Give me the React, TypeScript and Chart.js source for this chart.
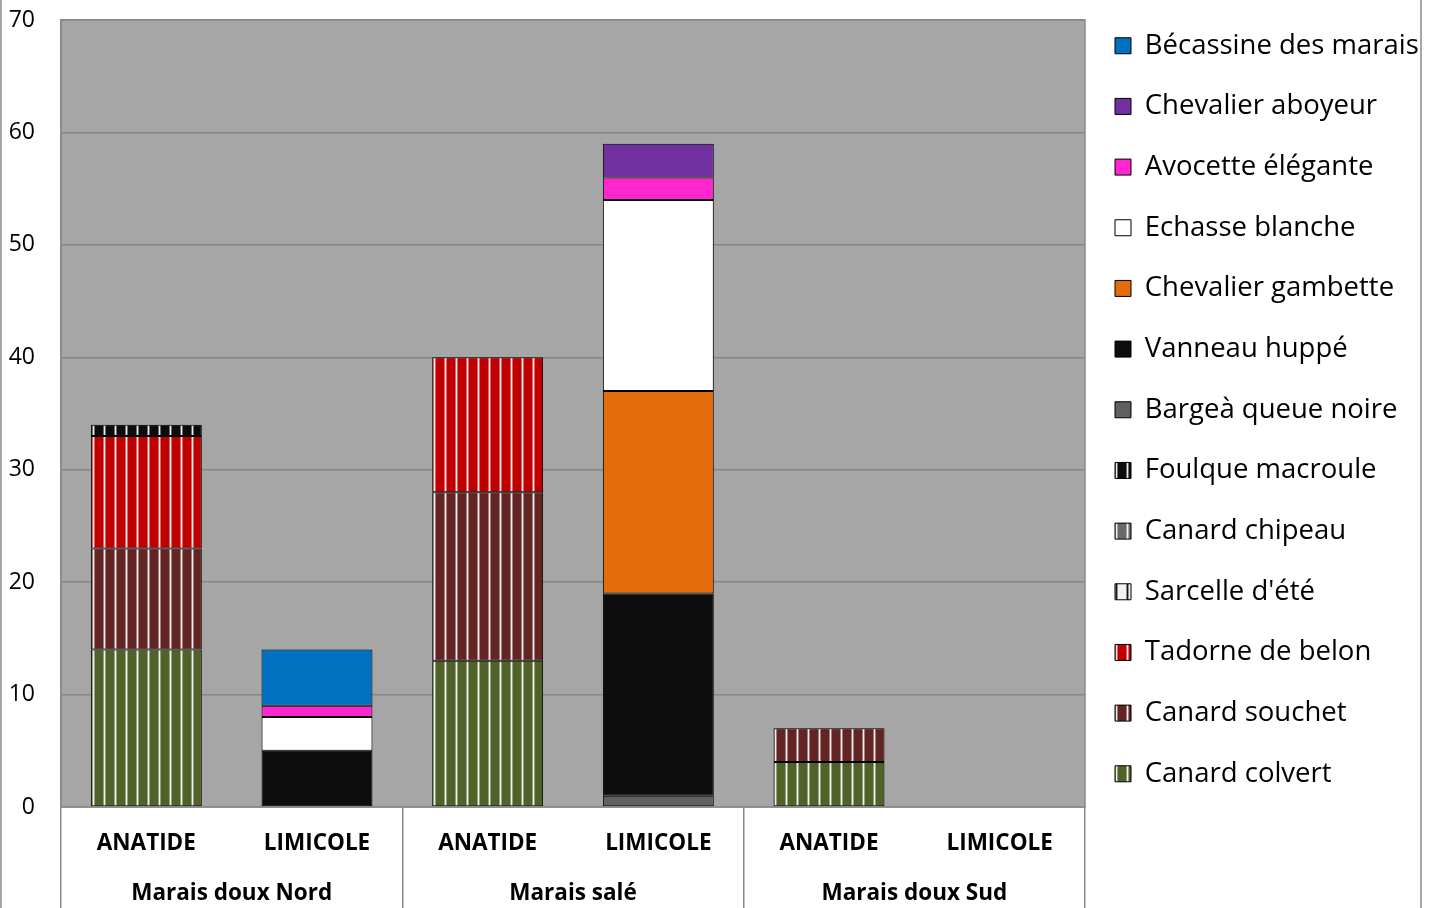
import { useEffect, useRef } from 'react';
import { Chart, registerables } from 'chart.js';

Chart.register(...registerables);

// Sites (outer axis) and bird groups (inner axis)
const GROUPS = ['Marais doux Nord', 'Marais salé', 'Marais doux Sud'];
const CATEGORIES = ['ANATIDE', 'LIMICOLE', 'ANATIDE', 'LIMICOLE', 'ANATIDE', 'LIMICOLE'];

const Y_MIN = 0;
const Y_MAX = 70;
const Y_STEP = 10;

// Counts per species, one entry per category column (null = none seen)
const CANARD_COLVERT = [14, null, 13, null, 4, null];
const CANARD_SOUCHET = [9, null, 15, null, 3, null];
const TADORNE_DE_BELON = [10, null, 12, null, null, null];
const SARCELLE_ETE = [null, null, null, null, null, null];
const CANARD_CHIPEAU = [null, null, null, null, null, null];
const FOULQUE_MACROULE = [1, null, null, null, null, null];
const BARGE_QUEUE_NOIRE = [null, null, null, 1, null, null];
const VANNEAU_HUPPE = [null, 5, null, 18, null, null];
const CHEVALIER_GAMBETTE = [null, null, null, 18, null, null];
const ECHASSE_BLANCHE = [null, 3, null, 17, null, null];
const AVOCETTE_ELEGANTE = [null, 1, null, 2, null, null];
const CHEVALIER_ABOYEUR = [null, null, null, 3, null, null];
const BECASSINE_DES_MARAIS = [null, 5, null, null, null, null];

const FONT = '"Open Sans", sans-serif';
const LEGEND_FONT_SIZE = 27.5;
const LEGEND_PAD = 30;
const LEGEND_BOX = 16;
const LEGEND_ROW = 60.67;
const AXIS_FONT_SIZE = 22.5;

function stripes(base: string, line: string): CanvasPattern | string {
  const c = document.createElement('canvas');
  c.width = 11;
  c.height = 8;
  const g = c.getContext('2d');
  if (!g) return base;
  g.fillStyle = base;
  g.fillRect(0, 0, 11, 8);
  g.globalAlpha = 0.4;
  g.fillStyle = line;
  g.fillRect(4, 0, 3, 8);
  g.globalAlpha = 0.85;
  g.fillRect(5, 0, 1, 8);
  const p = g.createPattern(c, 'repeat');
  return p || base;
}

const chartFrame = {
  id: 'chartFrame',
  beforeDraw(chart: any) {
    const { ctx, chartArea: a } = chart;
    ctx.save();
    ctx.fillStyle = '#A6A6A6';
    ctx.fillRect(a.left, a.top, a.right - a.left, a.bottom - a.top);
    ctx.restore();
  },
  afterDraw(chart: any) {
    const { ctx, chartArea: a, height } = chart;
    ctx.save();
    ctx.strokeStyle = '#8a8a8a';
    ctx.lineWidth = 1.5;
    ctx.strokeRect(a.left, a.top, a.right - a.left, a.bottom - a.top);
    ctx.beginPath();
    ctx.moveTo(1, 0);
    ctx.lineTo(1, height);
    ctx.moveTo(1421, 0);
    ctx.lineTo(1421, height);
    ctx.stroke();
    ctx.restore();
  },
};

export default function App() {
  const ref = useRef<HTMLCanvasElement | null>(null);

  useEffect(() => {
    if (!ref.current) return;

    const series = [
      { label: 'Canard colvert', data: CANARD_COLVERT, bg: stripes('#4F6228', '#ffffff') },
      { label: 'Canard souchet', data: CANARD_SOUCHET, bg: stripes('#632523', '#ffffff') },
      { label: 'Tadorne de belon', data: TADORNE_DE_BELON, bg: stripes('#C00000', '#ffffff') },
      { label: "Sarcelle d'été", data: SARCELLE_ETE, bg: stripes('#f2f2f2', '#000000') },
      { label: 'Canard chipeau', data: CANARD_CHIPEAU, bg: stripes('#6a6a6a', '#ffffff') },
      { label: 'Foulque macroule', data: FOULQUE_MACROULE, bg: stripes('#0d0d0d', '#ffffff') },
      { label: 'Bargeà queue noire', data: BARGE_QUEUE_NOIRE, bg: '#606060' },
      { label: 'Vanneau huppé', data: VANNEAU_HUPPE, bg: '#0d0d0d' },
      { label: 'Chevalier gambette', data: CHEVALIER_GAMBETTE, bg: '#E46C0A' },
      { label: 'Echasse blanche', data: ECHASSE_BLANCHE, bg: '#FFFFFF' },
      { label: 'Avocette élégante', data: AVOCETTE_ELEGANTE, bg: '#FF25CF' },
      { label: 'Chevalier aboyeur', data: CHEVALIER_ABOYEUR, bg: '#7030A0' },
      { label: 'Bécassine des marais', data: BECASSINE_DES_MARAIS, bg: '#0070C0' },
    ];

    // legend column width, so the plot ends at the same place whatever the font
    const m = document.createElement('canvas').getContext('2d');
    let maxW = 0;
    if (m) {
      m.font = `${LEGEND_FONT_SIZE}px ${FONT}`;
      series.forEach((s) => {
        maxW = Math.max(maxW, m.measureText(s.label).width);
      });
    }
    const legendW = LEGEND_PAD + LEGEND_BOX + LEGEND_FONT_SIZE / 2 + maxW + 10;
    const padRight = Math.max(0, 1435 - 1085 - legendW);

    const chart = new Chart(ref.current, {
      type: 'bar',
      data: {
        labels: CATEGORIES,
        datasets: series.map((s) => ({
          label: s.label,
          data: s.data,
          backgroundColor: s.bg as any,
          borderColor: '#000000',
          borderWidth: 1,
          borderSkipped: false,
          barPercentage: 0.65,
          categoryPercentage: 1,
        })),
      },
      options: {
        responsive: false,
        animation: false,
        devicePixelRatio: 1,
        layout: { padding: { left: 0, top: 0, bottom: 0, right: padRight } },
        plugins: {
          tooltip: { enabled: false },
          title: {
            display: true,
            text: '',
            fullSize: false,
            padding: 0,
            font: { size: 20, lineHeight: 1 },
          },
          legend: {
            position: 'right',
            align: 'start',
            reverse: true,
            maxWidth: 350,
            title: { display: true, text: '', padding: 0, font: { size: 2, lineHeight: 1 } },
            labels: {
              boxWidth: LEGEND_BOX,
              boxHeight: LEGEND_BOX,
              padding: LEGEND_PAD,
              color: '#000000',
              font: {
                family: FONT,
                size: LEGEND_FONT_SIZE,
                lineHeight: (LEGEND_ROW - LEGEND_PAD) / LEGEND_FONT_SIZE,
              },
              generateLabels: (c: any) =>
                Chart.defaults.plugins.legend.labels
                  .generateLabels(c)
                  .map((item: any) => ({ ...item, text: [item.text] })),
            },
          },
        },
        scales: {
          x: {
            type: 'category',
            position: 'bottom',
            stacked: true,
            offset: true,
            afterFit: (s: any) => {
              s.height = 50;
            },
            grid: {
              offset: true,
              drawOnChartArea: false,
              drawTicks: true,
              tickLength: 101,
              lineWidth: 1.5,
              color: (ctx: any) =>
                ctx.index === undefined || ctx.index % 2 === 0 ? '#8a8a8a' : 'rgba(0,0,0,0)',
            },
            border: { display: true, color: '#8a8a8a', width: 1.5 },
            ticks: {
              color: '#000000',
              font: { family: FONT, size: AXIS_FONT_SIZE, weight: 'bold' },
              padding: -77.5,
              maxRotation: 0,
              autoSkip: false,
            },
          },
          x2: {
            type: 'category',
            position: 'bottom',
            labels: GROUPS,
            offset: true,
            afterFit: (s: any) => {
              s.height = 51;
            },
            grid: { display: false, drawTicks: false },
            border: { display: false },
            ticks: {
              color: '#000000',
              font: { family: FONT, size: AXIS_FONT_SIZE, weight: 'bold' },
              padding: 23.5,
              maxRotation: 0,
              autoSkip: false,
            },
          },
          y: {
            type: 'linear',
            stacked: true,
            min: Y_MIN,
            max: Y_MAX,
            afterFit: (s: any) => {
              s.width = 61;
            },
            grid: {
              color: '#868686',
              lineWidth: 1.5,
              drawTicks: true,
              tickLength: 24,
              tickColor: 'rgba(0,0,0,0)',
            },
            border: { display: true, color: '#8a8a8a', width: 1.5 },
            ticks: {
              stepSize: Y_STEP,
              color: '#000000',
              padding: 2,
              font: { family: FONT, size: 23 },
            },
          },
        },
      } as any,
      plugins: [chartFrame],
    });

    return () => chart.destroy();
  }, []);

  return (
    <div style={{ position: 'absolute', left: 0, top: 0, width: 1435, height: 908, background: '#ffffff' }}>
      <canvas ref={ref} width={1435} height={908} style={{ display: 'block' }} />
    </div>
  );
}
